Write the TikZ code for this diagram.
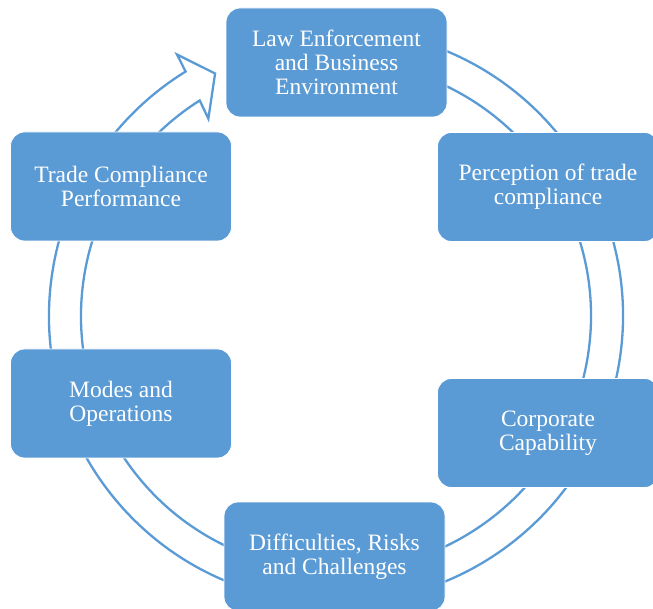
\documentclass[tikz,border=0pt]{standalone}
\usepackage{fontspec}
\setmainfont{Liberation Serif}
\definecolor{sablue}{HTML}{5B9BD5}
\begin{document}
\begin{tikzpicture}[x=1pt,y=1pt,
  stagebox/.style={draw=white,line width=0.8pt,fill=sablue,rounded corners=14pt,
    minimum width=221pt,minimum height=109pt,text=white,align=center,
    font=\fontsize{23.5}{24}\selectfont,inner sep=0pt},
  cyclearrow/.style={draw=sablue,line width=2.3pt,fill=white,line join=miter}]
\useasboundingbox (0,0) rectangle (653,608);
\begin{scope}[shift={(336,292)}]
  \draw[cyclearrow] (80:287pt) arc[start angle=80,end angle=-238.4,radius=287pt]
    -- (121.3:306pt) -- (116.5:271pt) -- (122.9:235pt) -- (122.3:255pt)
    arc[start angle=-237.7,end angle=80,radius=255pt] -- cycle;
\end{scope}
\node[stagebox] (law) at (336.5,545.5) {\raisebox{-1.5pt}{\parbox{200pt}{\centering Law Enforcement\\and Business\\Environment}}};
\node[stagebox] (perc) at (548,421) {\raisebox{-1.5pt}{\parbox{215pt}{\centering Perception of trade\\compliance}}};
\node[stagebox] (corp) at (548,175) {\raisebox{-1.5pt}{\parbox{200pt}{\centering Corporate\\Capability}}};
\node[stagebox] (diff) at (334.5,51.5) {\raisebox{-1.5pt}{\parbox{200pt}{\centering Difficulties, Risks\\and Challenges}}};
\node[stagebox] (modes) at (121,204.5) {\raisebox{-1.5pt}{\parbox{200pt}{\centering Modes and\\Operations}}};
\node[stagebox] (trade) at (121,421.5) {\raisebox{-1.5pt}{\parbox{200pt}{\centering Trade Compliance\\Performance}}};
\end{tikzpicture}
\end{document}
